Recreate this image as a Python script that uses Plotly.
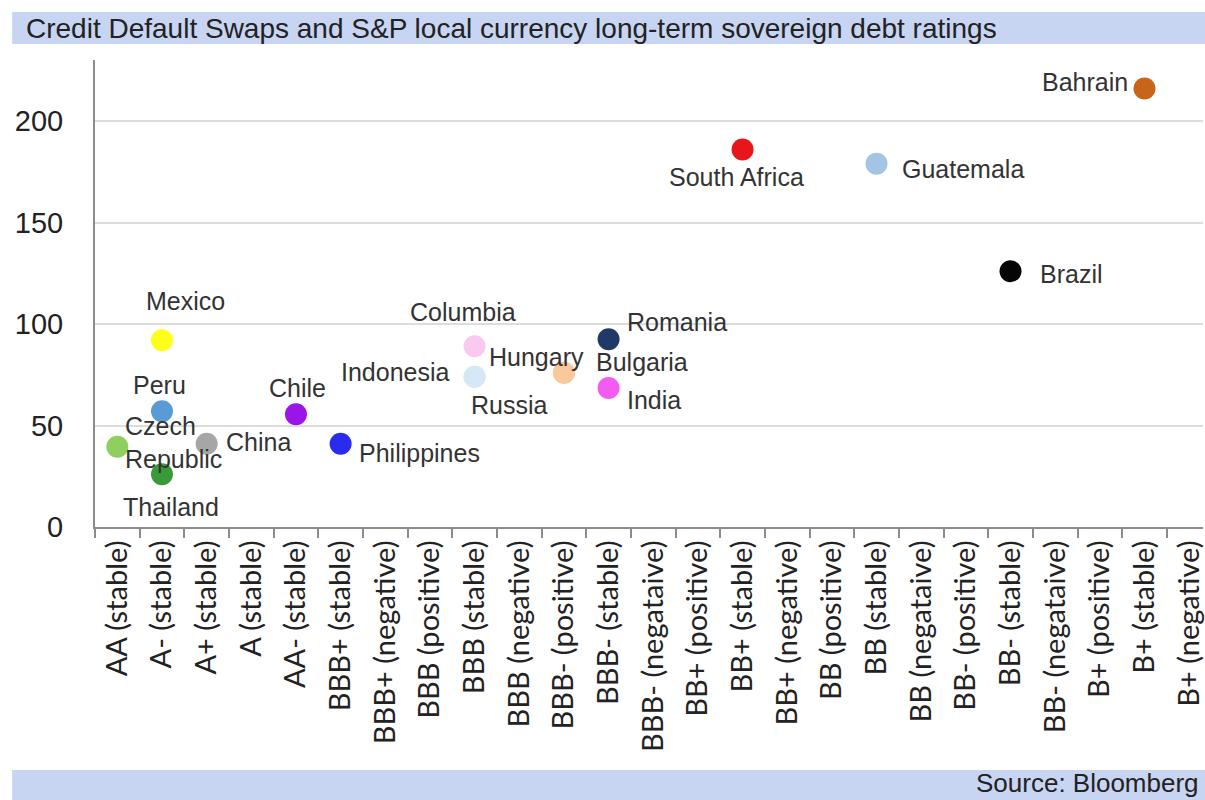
import plotly.graph_objects as go

# ---------------- data ----------------
ratings = ["AA (stable)", "A- (stable)", "A+ (stable)", "A (stable)", "AA- (stable)",
           "BBB+ (stable)", "BBB+ (negative)", "BBB (positive)", "BBB (stable)",
           "BBB (negative)", "BBB- (positive)", "BBB- (stable)", "BBB- (negataive)",
           "BB+ (positive)", "BB+ (stable)", "BB+ (negative)", "BB (positive)",
           "BB (stable)", "BB (negataive)", "BB- (positive)", "BB- (stable)",
           "BB- (negataive)", "B+ (positive)", "B+ (stable)", "B+ (negative)"]

countries = ["Czech Republic", "Mexico", "Peru", "Thailand", "China", "Chile",
             "Philippines", "Columbia", "Indonesia", "Russia", "Hungary", "Bulgaria",
             "Romania", "India", "South Africa", "Guatemala", "Brazil", "Bahrain"]
country_rating = ["AA (stable)", "A- (stable)", "A- (stable)", "A- (stable)", "A+ (stable)",
                  "AA- (stable)", "BBB+ (stable)", "BBB (stable)", "BBB (stable)",
                  "BBB (stable)", "BBB- (positive)", "BBB- (positive)", "BBB- (stable)",
                  "BBB- (stable)", "BB+ (stable)", "BB (stable)", "BB- (stable)",
                  "B+ (stable)"]
cds = [39.5, 92, 57, 26, 41, 55.5, 41, 89, 74, 74, 76, 76, 92.5, 68.5, 186, 179, 126, 216]

y_ticks = [0, 50, 100, 150, 200]

title_text = "Credit Default Swaps and S&P local currency long-term sovereign debt ratings"
source_text = "Source: Bloomberg"

# ---------------- styles ----------------
colors = {
    "Czech Republic": "#8fcf5f", "Mexico": "#ffff1a", "Peru": "#5b9bd5",
    "Thailand": "#3a9a3a", "China": "#a6a6a6", "Chile": "#9b14e8",
    "Philippines": "#2b2bf0", "Columbia": "#f9c9f0", "Indonesia": "#d4e8f8",
    "Russia": "#d4e8f8", "Hungary": "#f8c99a", "Bulgaria": "#f8c99a",
    "Romania": "#1f3a68", "India": "#f35cf0", "South Africa": "#e8161b",
    "Guatemala": "#a4c4e4", "Brazil": "#050505", "Bahrain": "#c8651c",
}
# label placement: (xanchor, xshift px, yshift px)
label_style = {
    "Czech Republic": ("left", 6, 4), "Mexico": ("center", 24, 39),
    "Peru": ("center", -2, 26), "Thailand": ("center", 9, -33),
    "China": ("left", 17, 2), "Chile": ("center", 2, 26),
    "Philippines": ("left", 16, -9), "Columbia": ("center", -12, 34),
    "Indonesia": ("right", -23, 5), "Russia": ("center", 35, -28),
    "Hungary": ("center", -27, 16), "Bulgaria": ("left", 30, 11),
    "Romania": ("left", 16, 17), "India": ("left", 16, -12),
    "South Africa": ("center", -6, -28), "Guatemala": ("left", 23, -5),
    "Brazil": ("left", 27, -3), "Bahrain": ("right", -15, 7),
}
label_text = {"Czech Republic": "Czech<br>Republic"}

W, H = 1205, 800
L, T = 95, 60          # plot area left / top in px
PB = 527               # plot area bottom in px
PW, PH = W - L, PB - T

def px(xp):
    return (xp - L) / PW

def py(yp):
    return (PB - yp) / PH

fig = go.Figure()
fig.add_trace(go.Scatter(
    x=country_rating, y=cds, mode="markers",
    marker=dict(size=22, color=[colors[c] for c in countries], line=dict(width=0)),
    hoverinfo="text", text=countries, showlegend=False, cliponaxis=False,
))

annotations = []
for c, r, v in zip(countries, country_rating, cds):
    xa, xs, ys = label_style[c]
    annotations.append(dict(
        x=r, y=v, xref="x", yref="y", text=label_text.get(c, c), showarrow=False,
        xanchor=xa, yanchor="middle", xshift=xs, yshift=ys, align="left",
        font=dict(family="Liberation Sans, Arial", size=25, color="#333333"),
    ))

annotations.append(dict(
    x=px(24), y=py(29), xref="paper", yref="paper", text=title_text, showarrow=False,
    xanchor="left", yanchor="middle",
    font=dict(family="Liberation Sans, Arial", size=28, color="#222222"),
))
annotations.append(dict(
    x=px(1202), y=py(783), xref="paper", yref="paper", text=source_text, showarrow=False,
    xanchor="right", yanchor="middle", borderpad=0,
    font=dict(family="Liberation Sans, Arial", size=26, color="#222222"),
))

shapes = [
    dict(type="rect", xref="paper", yref="paper", x0=px(12), x1=px(1210), y0=py(44), y1=py(12),
         fillcolor="#c8d5f2", line=dict(width=0), layer="below"),
    dict(type="rect", xref="paper", yref="paper", x0=px(12), x1=px(1210), y0=py(800), y1=py(770),
         fillcolor="#c8d5f2", line=dict(width=0), layer="below"),
]

fig.update_layout(
    width=W, height=H,
    margin=dict(l=L, r=0, t=T, b=H - PB, pad=0),
    paper_bgcolor="white", plot_bgcolor="white",
    annotations=annotations, shapes=shapes,
    xaxis=dict(
        type="category", categoryorder="array", categoryarray=ratings,
        range=[-0.5, -0.5 + PW / 44.74], tickson="boundaries",
        ticks="outside", ticklen=9, tickwidth=2, tickcolor="#8c8c8c",
        showline=True, linecolor="#8c8c8c", linewidth=2,
        showgrid=False, zeroline=False, tickangle=-90,
        tickfont=dict(family="Lato", size=29, color="#222222"),
        fixedrange=True,
    ),
    yaxis=dict(
        range=[0, (PB - T) / 2.03], tickvals=y_ticks, ticks="",
        showline=True, linecolor="#8c8c8c", linewidth=2,
        showgrid=True, gridcolor="#dcdcdc", gridwidth=2, zeroline=False,
        tickfont=dict(family="Liberation Sans, Arial", size=29, color="#222222"),
        ticklabelstandoff=24, fixedrange=True,
    ),
)

fig.write_html("out.html")
